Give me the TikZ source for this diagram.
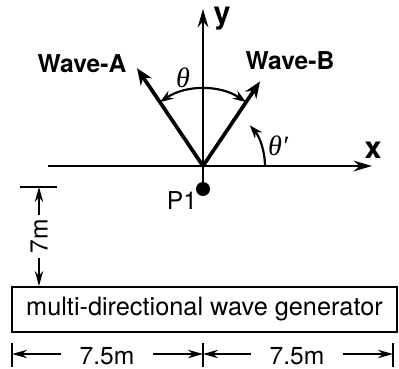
\documentclass[tikz,border=0pt]{standalone}
\usepackage{fontspec}
\setmainfont{TeX Gyre Heros}
\newfontfamily\greekfont{Liberation Serif}
\usepackage{tikz}
\usetikzlibrary{positioning,arrows.meta,calc}
\tikzset{
  axis/.style={-{Stealth[length=5.5mm,width=3.2mm]}, line width=0.65mm},
  wave/.style={-{Stealth[length=5mm,width=4mm]}, line width=1.1mm},
  angarc/.style={line width=0.65mm},
  angtip/.tip={Stealth[length=4mm,width=2.8mm]},
  dimline/.style={line width=0.6mm, -{Stealth[length=4.5mm,width=2.5mm]}},
  dimtick/.style={line width=0.6mm},
  lbl/.style={font=\fontsize{21}{25}\selectfont, inner sep=1pt},
  wavelbl/.style={lbl, font=\fontsize{21}{25}\selectfont\bfseries},
  axislbl/.style={font=\fontsize{26}{30}\selectfont\bfseries, inner sep=1pt},
  anglbl/.style={font=\fontsize{24}{28}\selectfont\greekfont\itshape, inner sep=1pt},
  dimlbl/.style={lbl, inner xsep=5.6mm},
  genbox/.style={draw, line width=0.6mm, minimum width=115.5mm, minimum height=13.5mm,
                 inner sep=0pt, font=\fontsize{21.6}{25}\selectfont},
  pdot/.style={circle, fill=black, inner sep=0pt, minimum size=4.2mm}
}
\begin{document}
\begin{tikzpicture}[x=0.3mm,y=0.3mm]
\useasboundingbox (-203,-202) rectangle (196,166);
\coordinate (O) at (0,0);
% axes
\coordinate (xstart) at (-155,0);
\coordinate (xend) at (169,0);
\coordinate (ytop) at (0,157);
\draw[axis] (xstart) -- (xend);
\draw[axis] (O) -- (ytop);
\node[axislbl] (xlbl) at (170,16) {x};
\node[axislbl] (ylbl) at (19,147) {y};
% incident waves
\coordinate (tipA) at (124:118);
\coordinate (tipB) at (56:102);
\draw[wave] (O) -- (tipA);
\draw[wave] (O) -- (tipB);
\node[wavelbl] (labA) at (-121,102) {Wave-A};
\node[wavelbl] (labB) at (87,105) {Wave-B};
% angles
\draw[angarc, angtip-angtip] (56:77) arc[start angle=56, end angle=124, radius=77];
\node[anglbl] (theta) at (-20,88) {θ};
\draw[angarc, -angtip] (62,0) arc[start angle=0, end angle=41, radius=62];
\node[anglbl] (thetap) at (75,20) {θ′};
% measuring point
\node[pdot] (P1) at (0,-23) {};
\draw[line width=0.65mm] (O) -- (P1);
\node[lbl] (P1lbl) at (-21,-35) {P1};
% wave generator
\node[genbox] (gen) at (1.5,-143.5) {multi-directional wave generator};
% distance to generator
\coordinate (d7top) at (-164,-21);
\coordinate (d7bot) at (gen.north -| d7top);
\draw[dimtick] (-183,-21) -- (-146,-21);
\node[lbl, rotate=90] (dim7) at (-164,-70) {7m};
\draw[dimline] (-164,-49) -- (d7top);
\draw[dimline] (-164,-92) -- (d7bot);
% generator width
\coordinate (bL) at (-191,-188);
\coordinate (bM) at (0,-188);
\coordinate (bR) at (190,-188);
\foreach \p in {bL,bM,bR}
  \draw[dimtick] ($(\p)+(0,11)$) -- ($(\p)+(0,-13)$);
\node[dimlbl] (dimL) at (-96,-190) {7.5m};
\node[dimlbl] (dimR) at (94,-190) {7.5m};
\draw[dimline] (dimL.west |- bL) -- (bL);
\draw[dimline] (dimL.east |- bL) -- (bM);
\draw[dimline] (dimR.west |- bM) -- (bM);
\draw[dimline] (dimR.east |- bR) -- (bR);
\end{tikzpicture}
\end{document}
